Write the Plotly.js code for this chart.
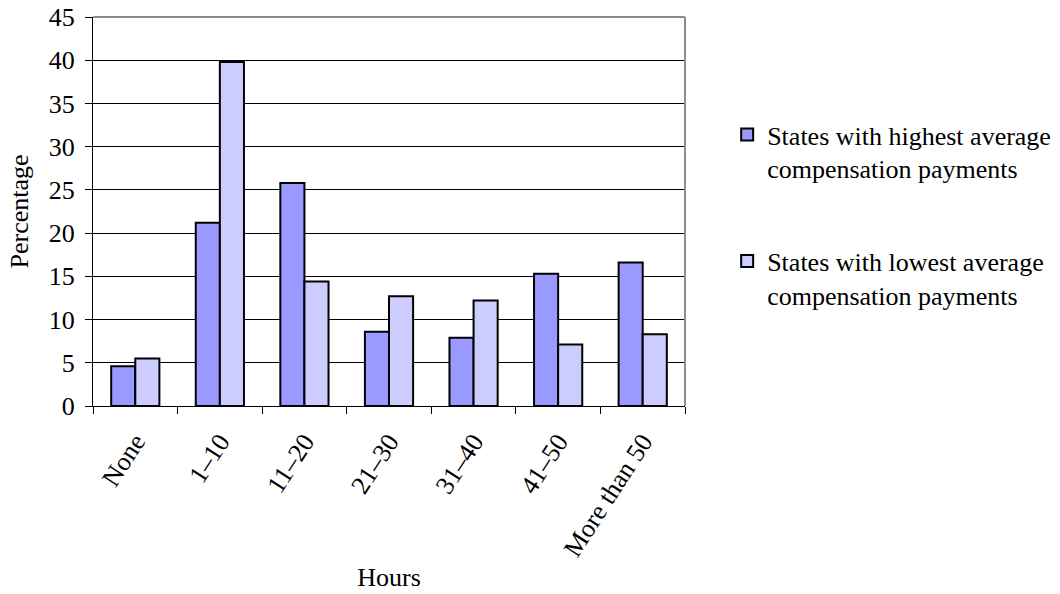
<!DOCTYPE html>
<html>
<head>
<meta charset="utf-8">
<script src="https://cdn.plot.ly/plotly-3.0.1.min.js"></script>
<style>
  html, body { margin: 0; padding: 0; background: #ffffff; }
  #chart { width: 1060px; height: 594px; }
</style>
</head>
<body>
<div id="chart"></div>
<script>
// Hours worked per category
const hours = ["None", "1\u201310", "11\u201320", "21\u201330", "31\u201340", "41\u201350", "More than 50"];

// Percentage of respondents in each group
const highestStates = [4.6, 21.2, 25.8, 8.6, 7.9, 15.3, 16.6];
const lowestStates = [5.5, 39.8, 14.4, 12.7, 12.2, 7.1, 8.3];

const seriesNames = [
  "States with highest average<br>compensation payments",
  "States with lowest average<br>compensation payments"
];

const yTicks = [0, 5, 10, 15, 20, 25, 30, 35, 40, 45];

const serif = "Liberation Serif, Times New Roman, serif";
const fontSize = 26;

const traces = [
  {
    type: "bar",
    name: seriesNames[0],
    x: hours,
    y: highestStates,
    legendgroup: "high",
    marker: { color: "#9999ff", line: { color: "#000000", width: 2 } },
    hoverinfo: "x+y"
  },
  {
    type: "bar",
    name: seriesNames[1],
    x: hours,
    y: lowestStates,
    legendgroup: "low",
    marker: { color: "#ccccff", line: { color: "#000000", width: 2 } },
    hoverinfo: "x+y"
  }
];

const layout = {
  width: 1060,
  height: 594,
  margin: { l: 93, r: 375, t: 17, b: 188 },
  paper_bgcolor: "#ffffff",
  plot_bgcolor: "#ffffff",
  font: { family: serif, size: fontSize, color: "#000000" },
  barmode: "group",
  bargap: 0.43,
  bargroupgap: 0,
  showlegend: true,
  legend: {
    xref: "container",
    yref: "container",
    x: 0.686,
    xanchor: "left",
    y: 0.813,
    yanchor: "top",
    traceorder: "grouped",
    tracegroupgap: 56,
    valign: "top",
    font: { family: serif, size: fontSize, color: "#000000" },
    bgcolor: "rgba(0,0,0,0)"
  },
  xaxis: {
    type: "category",
    showline: true,
    linecolor: "#000000",
    linewidth: 1,
    ticks: "outside",
    tickson: "boundaries",
    ticklen: 7,
    tickcolor: "#000000",
    tickangle: -57,
    ticklabelstandoff: 9,
    showgrid: false,
    automargin: false,
    tickfont: { family: serif, size: fontSize, color: "#000000" },
    title: { text: "Hours", standoff: 6, font: { family: serif, size: fontSize, color: "#000000" } }
  },
  yaxis: {
    range: [0, 45],
    tickvals: yTicks,
    showline: true,
    linecolor: "#000000",
    linewidth: 1,
    ticks: "outside",
    ticklen: 7,
    tickcolor: "#000000",
    ticklabelstandoff: 5,
    showgrid: true,
    gridcolor: "#000000",
    gridwidth: 1,
    zeroline: false,
    automargin: false,
    tickfont: { family: serif, size: fontSize, color: "#000000" },
    title: { text: "Percentage", standoff: 12, font: { family: serif, size: fontSize, color: "#000000" } }
  },
  shapes: [
    { type: "line", xref: "paper", yref: "paper", x0: 0, x1: 1, y0: 1, y1: 1,
      line: { color: "#8c8c8c", width: 2 } },
    { type: "line", xref: "paper", yref: "paper", x0: 1, x1: 1, y0: 0, y1: 1,
      line: { color: "#8c8c8c", width: 2 } }
  ]
};

Plotly.newPlot("chart", traces, layout, { displayModeBar: false, staticPlot: true });
</script>
</body>
</html>
